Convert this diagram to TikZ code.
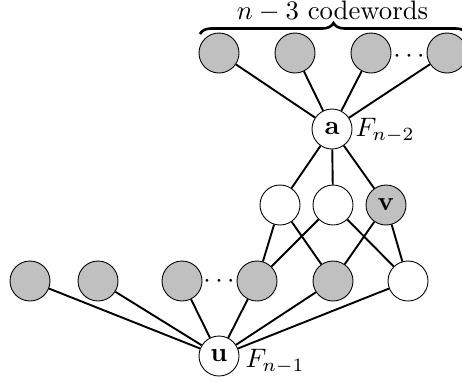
\documentclass[tikz,border=0pt]{standalone}
\usetikzlibrary{decorations.pathreplacing}
\definecolor{cgray}{RGB}{192,192,192}
\newcommand{\bigtxt}[1]{\scalebox{2.67}{#1}}
\begin{document}
\begin{tikzpicture}[x=1pt,y=-1pt,
  vtx/.style={circle,draw,line width=0.9pt,minimum size=40pt,inner sep=0pt,fill=white},
  gvtx/.style={vtx,fill=cgray},
  edge/.style={line width=1.9pt},
  txt/.style={inner sep=0pt,scale=2.67,transform shape}]
\useasboundingbox (0,0) rectangle (462,381);
% nodes
\node[gvtx] (t1) at (219,53) {};
\node[gvtx] (t2) at (295,53) {};
\node[gvtx] (t3) at (371,53) {};
\node[gvtx] (t4) at (447,53) {};
\node[vtx] (a) at (332,129) {\bigtxt{$\mathbf{a}$}};
\node[vtx] (m1) at (280,205) {};
\node[vtx] (m2) at (333,205) {};
\node[gvtx] (v) at (386,205) {\bigtxt{$\mathbf{v}$}};
\node[gvtx] (b1) at (30,281) {};
\node[gvtx] (b2) at (98,281) {};
\node[gvtx] (b3) at (182,281) {};
\node[gvtx] (b4) at (257,281) {};
\node[gvtx] (b5) at (333,281) {};
\node[vtx] (b6) at (408,281) {};
\node[vtx] (u) at (219,356) {\bigtxt{$\mathbf{u}$}};
% labels
\node[txt,anchor=base west] (fa) at (355,136) {$F_{n-2}$};
\node[txt,anchor=base west] (fu) at (245,367) {$F_{n-1}$};
\node[txt,anchor=base] (d1) at (409,62) {$\cdots$};
\node[txt,anchor=base] (d2) at (219,287) {$\cdots$};
\node[txt,anchor=base] (cw) at (332.5,19) {$n-3$ codewords};
% brace
\coordinate (bl) at (200,34);
\coordinate (br) at (467,34);
\draw[line width=2.6pt,decorate,decoration={brace,amplitude=11pt}] (bl) -- (br);
% edges
\foreach \t in {t1,t2,t3,t4} \draw[edge] (\t) -- (a);
\foreach \m in {m1,m2,v} \draw[edge] (a) -- (\m);
\draw[edge] (m1) -- (b4);
\draw[edge] (m1) -- (b5);
\draw[edge] (m2) -- (b4);
\draw[edge] (m2) -- (b6);
\draw[edge] (v) -- (b5);
\draw[edge] (v) -- (b6);
\foreach \b in {b1,b2,b3,b4,b5,b6} \draw[edge] (\b) -- (u);
\end{tikzpicture}
\end{document}
